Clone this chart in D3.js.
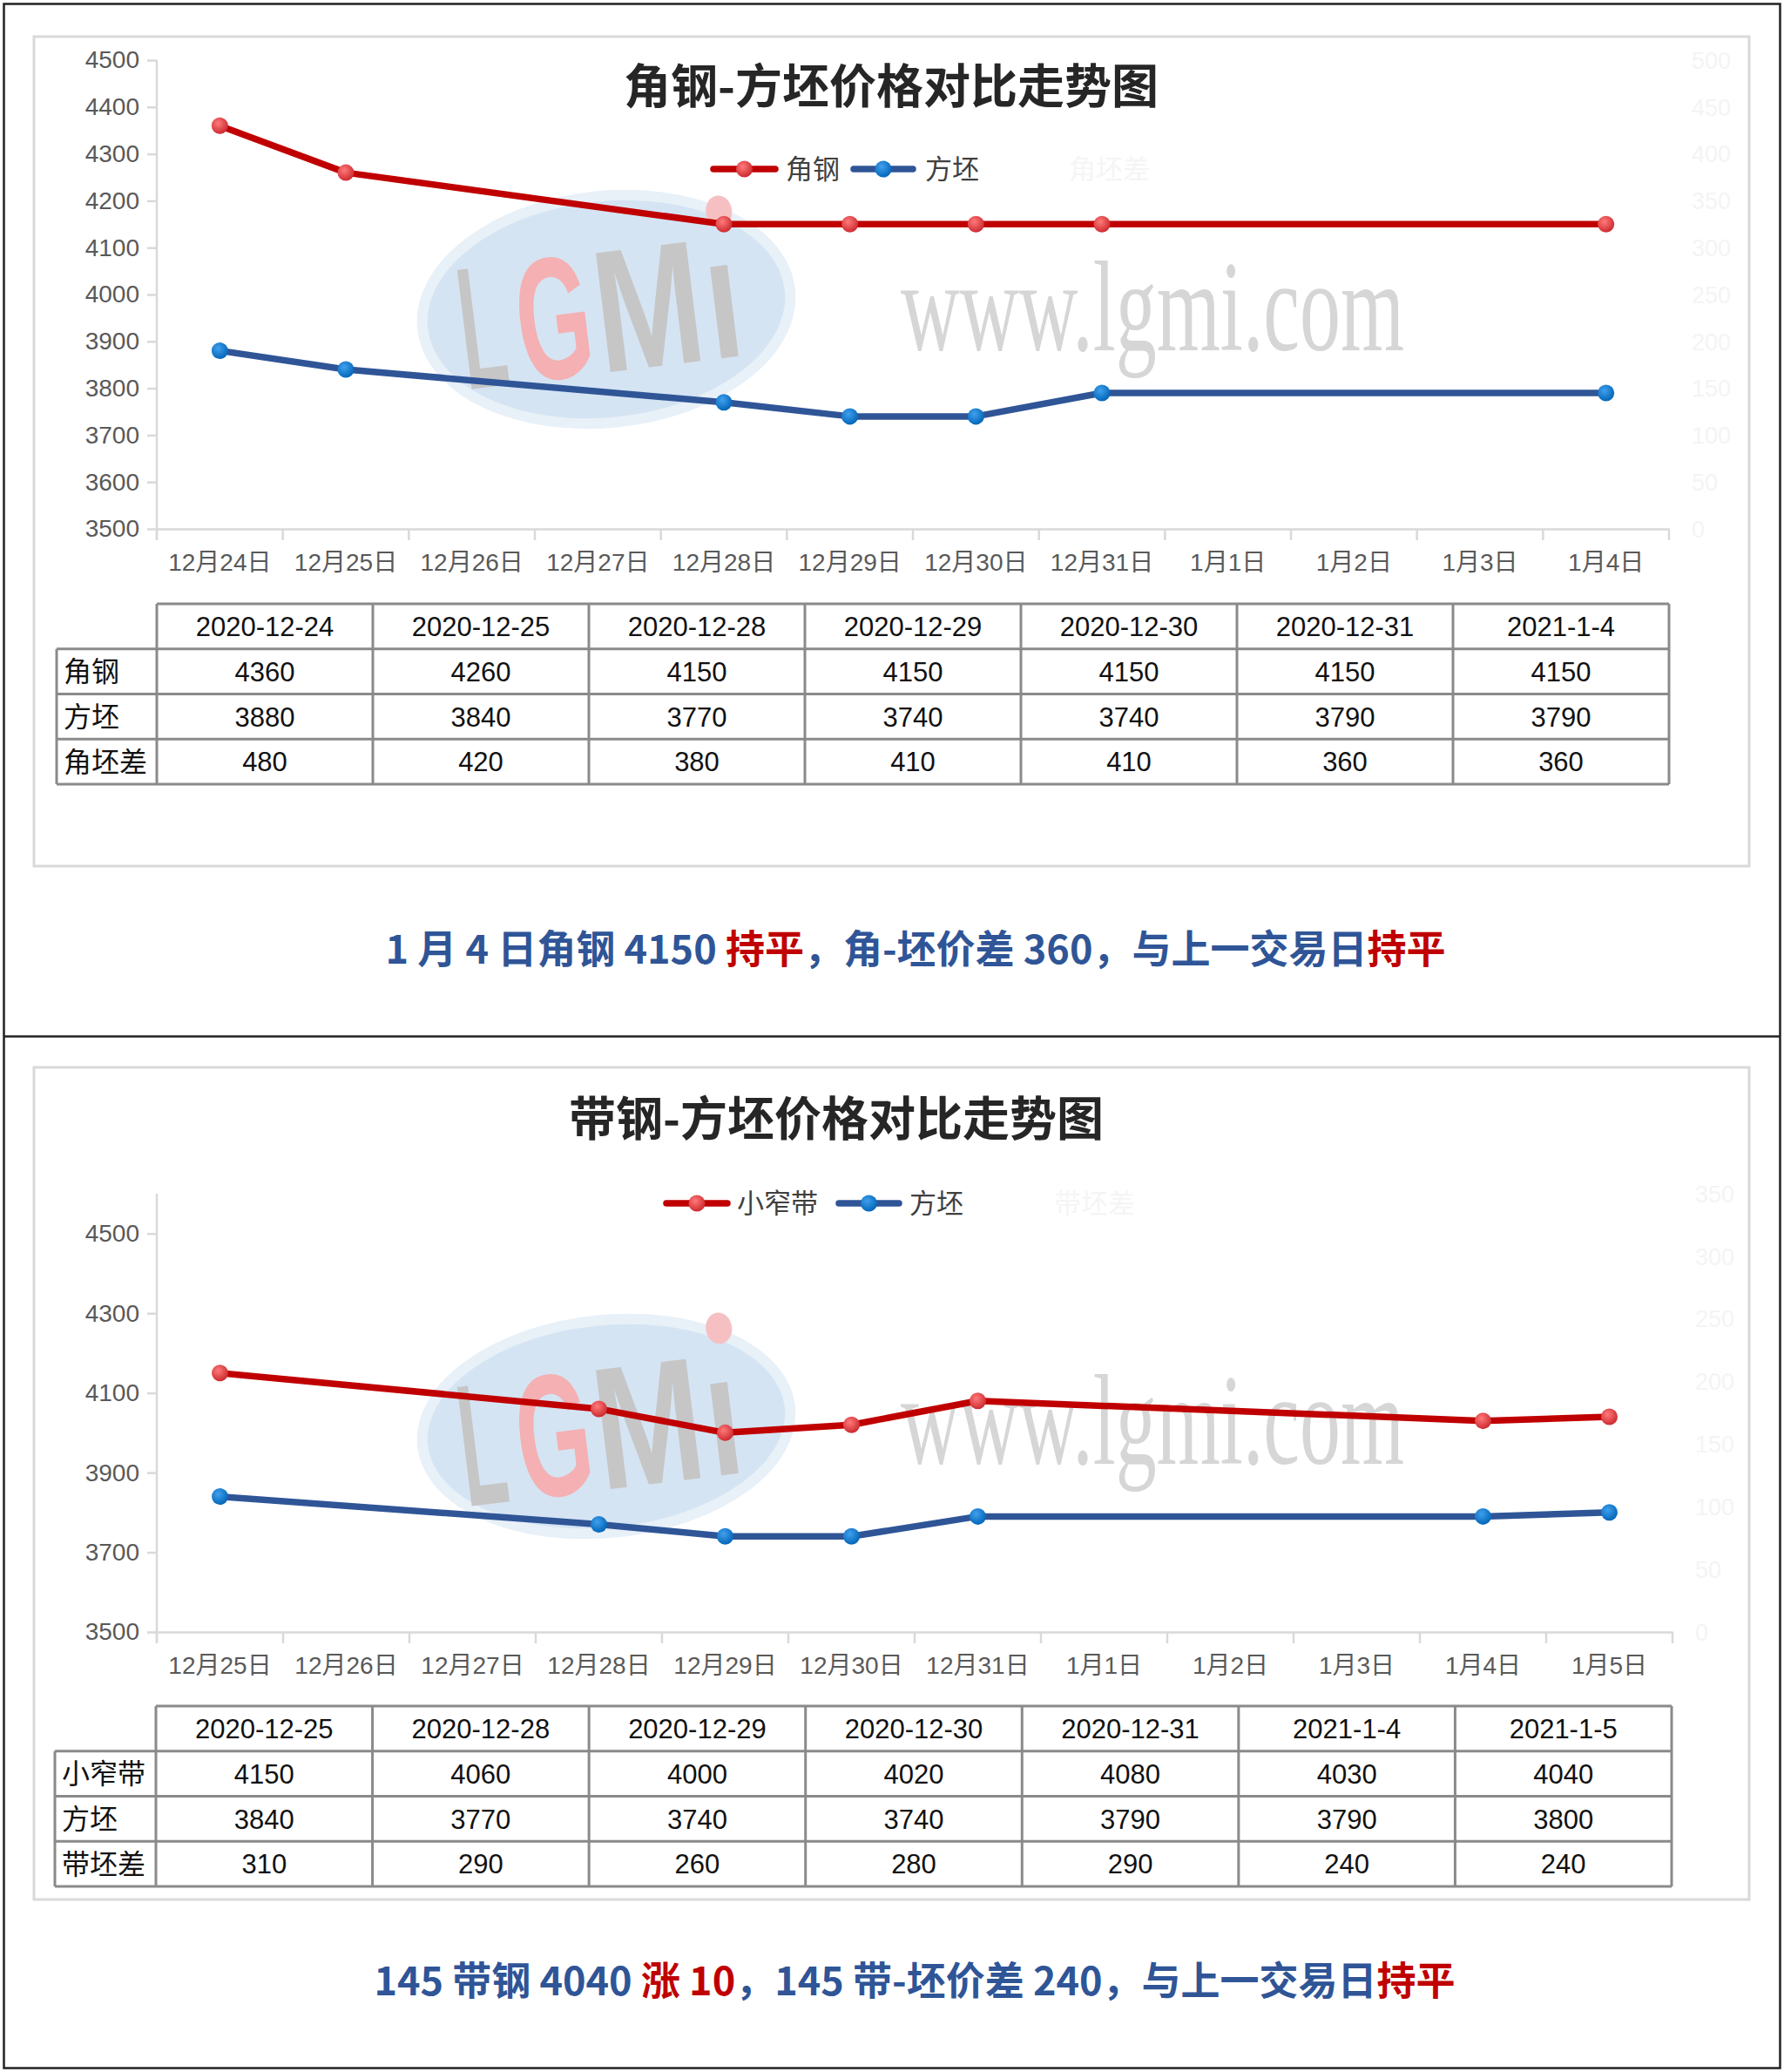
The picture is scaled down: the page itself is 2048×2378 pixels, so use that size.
<!DOCTYPE html>
<html>
<head>
<meta charset="utf-8">
<script src="https://cdn.jsdelivr.net/npm/d3@7"></script>
<style>
  body { margin: 0; background: #fff; }
  svg { display: block; }
</style>
</head>
<body>
<div id="chart"></div>
<script>
// ---- top chart: 角钢 vs 方坯 ----
const axisDays1 = ['12月24日', '12月25日', '12月26日', '12月27日', '12月28日', '12月29日',
  '12月30日', '12月31日', '1月1日', '1月2日', '1月3日', '1月4日'];
const tableDates1 = ['2020-12-24', '2020-12-25', '2020-12-28', '2020-12-29', '2020-12-30', '2020-12-31', '2021-1-4'];
const angleSteel = [4360, 4260, 4150, 4150, 4150, 4150, 4150];
const billet1 = [3880, 3840, 3770, 3740, 3740, 3790, 3790];
const spread1 = [480, 420, 380, 410, 410, 360, 360];
const yTicks1 = [3500, 3600, 3700, 3800, 3900, 4000, 4100, 4200, 4300, 4400, 4500];
const rightTicks1 = [0, 50, 100, 150, 200, 250, 300, 350, 400, 450, 500];

// ---- bottom chart: 小窄带 vs 方坯 ----
const axisDays2 = ['12月25日', '12月26日', '12月27日', '12月28日', '12月29日', '12月30日',
  '12月31日', '1月1日', '1月2日', '1月3日', '1月4日', '1月5日'];
const tableDates2 = ['2020-12-25', '2020-12-28', '2020-12-29', '2020-12-30', '2020-12-31', '2021-1-4', '2021-1-5'];
const narrowStrip = [4150, 4060, 4000, 4020, 4080, 4030, 4040];
const billet2 = [3840, 3770, 3740, 3740, 3790, 3790, 3800];
const spread2 = [310, 290, 260, 280, 290, 240, 240];
const yTicks2 = [3500, 3700, 3900, 4100, 4300, 4500];
const rightTicks2 = [0, 50, 100, 150, 200, 250, 300, 350];

const RED = '#c00000';
const BLUE = '#2f5597';
const TXT_BLUE = '#2f5597';
const NUM_FONT = '"Liberation Sans", "Noto Sans CJK SC", sans-serif';
const CJK_FONT = '"Noto Sans CJK SC", sans-serif';

const svg = d3.select('#chart')
  .append('svg')
  .attr('width', 2048)
  .attr('height', 2378);

svg.append('rect').attr('width', 2048).attr('height', 2378).attr('fill', '#fff');

// marker gradients
const defs = svg.append('defs');
function addGrad(id, light, dark) {
  const g = defs.append('radialGradient').attr('id', id)
    .attr('cx', '40%').attr('cy', '35%').attr('r', '70%');
  g.append('stop').attr('offset', '0%').attr('stop-color', light);
  g.append('stop').attr('offset', '100%').attr('stop-color', dark);
}
addGrad('gRed', '#ff7a7a', '#c9252b');
addGrad('gBlue', '#3fa0ee', '#0062b4');

// outer frame + divider
svg.append('rect')
  .attr('x', 4.5).attr('y', 4.5).attr('width', 2039).attr('height', 2369)
  .attr('fill', 'none').attr('stroke', '#222').attr('stroke-width', 2.5);
svg.append('line')
  .attr('x1', 4.5).attr('x2', 2043.5).attr('y1', 1189.5).attr('y2', 1189.5)
  .attr('stroke', '#222').attr('stroke-width', 2.5);

function dayLabel(s) {
  const [, m, d] = s.split('-');
  return `${+m}月${+d}日`;
}

function drawPanel(p) {
  const g = svg.append('g');

  // chart area border
  g.append('rect')
    .attr('x', p.area[0]).attr('y', p.area[1])
    .attr('width', p.area[2] - p.area[0]).attr('height', p.area[3] - p.area[1])
    .attr('fill', '#fff').attr('stroke', '#d9d9d9').attr('stroke-width', 3);

  // watermark
  const wm = g.append('g').attr('class', 'watermark');
  wm.append('ellipse')
    .attr('cx', p.logo[0]).attr('cy', p.logo[1])
    .attr('rx', 212).attr('ry', p.logoRy)
    .attr('transform', `rotate(-6 ${p.logo[0]} ${p.logo[1]})`)
    .attr('fill', '#d5e4f3').attr('stroke', '#e8f0f8').attr('stroke-width', 12);
  const letters = wm.append('g')
    .attr('transform', `rotate(-7 ${p.logo[0]} ${p.logo[1]})`)
    .attr('font-family', '"Liberation Sans", sans-serif')
    .attr('font-weight', 'bold')
    .attr('font-size', 200);
  const lx = p.logo[0], ly = p.logo[1] + 72;
  [['L', -170, 52, '#c6c6c6'], ['G', -104, 86, '#f4b0b2'], ['M', -14, 124, '#c6c6c6'], ['ı', 114, 40, '#c6c6c6']]
    .forEach(([ch, dx, w, c]) => {
      letters.append('text')
        .attr('x', lx + dx).attr('y', ly)
        .attr('textLength', w).attr('lengthAdjust', 'spacingAndGlyphs')
        .attr('fill', c).text(ch);
    });
  letters.append('ellipse')
    .attr('cx', lx + 142).attr('cy', ly - 168).attr('rx', 15).attr('ry', 18)
    .attr('fill', '#f6c0c2');
  wm.append('text')
    .attr('x', 1034).attr('y', p.wwwY)
    .attr('textLength', 578).attr('lengthAdjust', 'spacingAndGlyphs')
    .attr('font-family', '"Liberation Serif", serif')
    .attr('font-size', 148)
    .attr('fill', '#d6d6d6')
    .text('www.lgmi.com');

  // scales
  const x = d3.scaleBand().domain(p.days).range([p.plot.left, p.plot.right]).padding(0);
  const y = d3.scaleLinear().domain(p.yDomain).range([p.plot.bottom, p.plot.top]);
  const yRight = d3.scaleLinear().domain([0, d3.max(p.rightTicks)])
    .range([p.plot.bottom, p.plot.top]);
  const cx = (s) => x(dayLabel(s)) + x.bandwidth() / 2;

  // faint secondary axis labels
  g.append('g')
    .selectAll('text')
    .data(p.rightTicks)
    .join('text')
    .attr('x', p.plot.right + 26)
    .attr('y', (d) => yRight(d))
    .attr('dy', '0.36em')
    .attr('font-family', NUM_FONT)
    .attr('font-size', 27)
    .attr('fill', '#f4f4f4')
    .text((d) => d);

  // left axis
  const yAxis = g.append('g')
    .attr('transform', `translate(${p.plot.left},0)`)
    .call(d3.axisLeft(y).tickValues(p.yTicks).tickFormat(d3.format('d'))
      .tickSize(11).tickSizeOuter(0).tickPadding(9));
  yAxis.select('.domain').remove();
  yAxis.selectAll('line').attr('stroke', '#d9d9d9').attr('stroke-width', 2.5);
  yAxis.selectAll('text')
    .attr('font-family', NUM_FONT).attr('font-size', 28).attr('fill', '#595959');
  g.append('line')
    .attr('x1', p.plot.left).attr('x2', p.plot.left)
    .attr('y1', p.plot.axisTop).attr('y2', p.plot.bottom + 13)
    .attr('stroke', '#d9d9d9').attr('stroke-width', 2.5);

  // bottom axis
  const xAxis = g.append('g')
    .attr('transform', `translate(0,${p.plot.bottom})`)
    .call(d3.axisBottom(x).tickSize(0).tickPadding(28));
  xAxis.select('.domain').attr('stroke', '#d9d9d9').attr('stroke-width', 2.5);
  xAxis.selectAll('text')
    .attr('font-family', NUM_FONT).attr('font-size', 28).attr('fill', '#595959');
  g.append('g')
    .selectAll('line')
    .data(p.days.map((d) => x(d)).concat([p.plot.right]))
    .join('line')
    .attr('x1', (d) => d).attr('x2', (d) => d)
    .attr('y1', p.plot.bottom).attr('y2', p.plot.bottom + 13)
    .attr('stroke', '#d9d9d9').attr('stroke-width', 2.5);

  // series
  p.series.forEach((s) => {
    const pts = p.dates.map((dt, i) => [cx(dt), y(s.values[i])]);
    g.append('path')
      .attr('d', d3.line()(pts))
      .attr('fill', 'none')
      .attr('stroke', s.color)
      .attr('stroke-width', 7.5)
      .attr('stroke-linejoin', 'round');
    g.append('g')
      .selectAll('circle')
      .data(pts)
      .join('circle')
      .attr('cx', (d) => d[0]).attr('cy', (d) => d[1]).attr('r', 9.5)
      .attr('fill', `url(#${s.grad})`);
  });

  // title
  g.append('text')
    .attr('x', p.titleX).attr('y', p.titleY)
    .attr('dy', '0.36em')
    .attr('text-anchor', 'middle')
    .attr('font-family', CJK_FONT)
    .attr('font-weight', 'bold')
    .attr('font-size', 54)
    .attr('fill', '#262626')
    .text(p.title);

  // legend
  p.series.forEach((s, i) => {
    const L = p.legend[i];
    g.append('line')
      .attr('x1', L[0]).attr('x2', L[1]).attr('y1', p.legendY).attr('y2', p.legendY)
      .attr('stroke', s.color).attr('stroke-width', 7.5).attr('stroke-linecap', 'round');
    g.append('circle')
      .attr('cx', (L[0] + L[1]) / 2).attr('cy', p.legendY).attr('r', 9.5)
      .attr('fill', `url(#${s.grad})`);
    g.append('text')
      .attr('x', L[2]).attr('y', p.legendY).attr('dy', '0.36em')
      .attr('font-family', CJK_FONT).attr('font-size', 31).attr('fill', '#404040')
      .text(s.name);
  });
  g.append('text')
    .attr('x', p.faintX).attr('y', p.legendY).attr('dy', '0.36em')
    .attr('font-family', CJK_FONT).attr('font-size', 31).attr('fill', '#f5f5f5')
    .text(p.spreadName);

  // data table
  const t = p.table;
  const rowNames = ['head'].concat(p.rows.map((r) => r.name));
  const col = d3.scaleBand().domain(p.dates).range([t.colLeft, t.right]);
  const row = d3.scaleBand().domain(rowNames).range([t.top, t.bottom]);
  const tg = g.append('g').attr('stroke', '#8a8a8a').attr('stroke-width', 3);
  tg.append('line').attr('x1', t.colLeft).attr('x2', t.right).attr('y1', t.top).attr('y2', t.top);
  rowNames.slice(1).forEach((r) => {
    tg.append('line').attr('x1', t.left).attr('x2', t.right).attr('y1', row(r)).attr('y2', row(r));
  });
  tg.append('line').attr('x1', t.left).attr('x2', t.right).attr('y1', t.bottom).attr('y2', t.bottom);
  tg.append('line').attr('x1', t.left).attr('x2', t.left)
    .attr('y1', row(rowNames[1])).attr('y2', t.bottom);
  [t.colLeft].concat(p.dates.map((d) => col(d) + col.bandwidth())).forEach((xx) => {
    tg.append('line').attr('x1', xx).attr('x2', xx).attr('y1', t.top).attr('y2', t.bottom);
  });

  const cellText = (xx, yy, txt, anchor) => g.append('text')
    .attr('x', xx).attr('y', yy).attr('dy', '0.36em')
    .attr('text-anchor', anchor)
    .attr('font-family', NUM_FONT).attr('font-size', 31).attr('fill', '#111')
    .text(txt);
  p.dates.forEach((d) => cellText(col(d) + col.bandwidth() / 2, row('head') + row.bandwidth() / 2, d, 'middle'));
  p.rows.forEach((r) => {
    const yy = row(r.name) + row.bandwidth() / 2;
    g.append('text')
      .attr('x', t.left + 8).attr('y', yy).attr('dy', '0.36em')
      .attr('font-family', CJK_FONT).attr('font-size', 32).attr('fill', '#111')
      .text(r.name);
    r.values.forEach((v, i) => cellText(col(p.dates[i]) + col.bandwidth() / 2, yy, v, 'middle'));
  });

  // summary line
  const sm = g.append('text')
    .attr('x', p.summaryX).attr('y', p.summaryY).attr('dy', '0.36em')
    .attr('text-anchor', 'middle')
    .attr('font-family', CJK_FONT).attr('font-weight', 'bold').attr('font-size', 45);
  p.summary.forEach(([txt, red]) => {
    sm.append('tspan').attr('fill', red ? RED : TXT_BLUE).text(txt);
  });
}

drawPanel({
  area: [39, 42, 2008, 994],
  plot: { left: 180, right: 1916, top: 69, bottom: 607, axisTop: 69 },
  yDomain: [3500, 4500],
  yTicks: yTicks1,
  rightTicks: rightTicks1,
  days: axisDays1,
  dates: tableDates1,
  series: [
    { name: '角钢', values: angleSteel, color: RED, grad: 'gRed' },
    { name: '方坯', values: billet1, color: BLUE, grad: 'gBlue' },
  ],
  rows: [
    { name: '角钢', values: angleSteel },
    { name: '方坯', values: billet1 },
    { name: '角坯差', values: spread1 },
  ],
  spreadName: '角坯差',
  title: '角钢-方坯价格对比走势图',
  titleX: 1023, titleY: 100,
  legendY: 194,
  legend: [[819, 890, 902], [980, 1048, 1062]],
  faintX: 1227,
  logo: [696, 355], logoRy: 130, wwwY: 402,
  table: { top: 693, bottom: 900, left: 65, colLeft: 180, right: 1916 },
  summaryX: 1051, summaryY: 1090,
  summary: [['1 月 4 日角钢 4150 ', false], ['持平', true], ['，角-坯价差 360，与上一交易日', false], ['持平', true]],
});

drawPanel({
  area: [39, 1225, 2008, 2180],
  plot: { left: 180, right: 1920, top: 1370, bottom: 1873, axisTop: 1370 },
  yDomain: [3500, 4600],
  yTicks: yTicks2,
  rightTicks: rightTicks2,
  days: axisDays2,
  dates: tableDates2,
  series: [
    { name: '小窄带', values: narrowStrip, color: RED, grad: 'gRed' },
    { name: '方坯', values: billet2, color: BLUE, grad: 'gBlue' },
  ],
  rows: [
    { name: '小窄带', values: narrowStrip },
    { name: '方坯', values: billet2 },
    { name: '带坯差', values: spread2 },
  ],
  spreadName: '带坯差',
  title: '带钢-方坯价格对比走势图',
  titleX: 960, titleY: 1285,
  legendY: 1381,
  legend: [[765, 835, 846], [963, 1032, 1044]],
  faintX: 1210,
  logo: [696, 1637], logoRy: 122, wwwY: 1680,
  table: { top: 1958, bottom: 2165, left: 63, colLeft: 179, right: 1919 },
  summaryX: 1050, summaryY: 2274,
  summary: [['145 带钢 4040 ', false], ['涨 10', true], ['，145 带-坯价差 240，与上一交易日', false], ['持平', true]],
});
</script>
</body>
</html>
